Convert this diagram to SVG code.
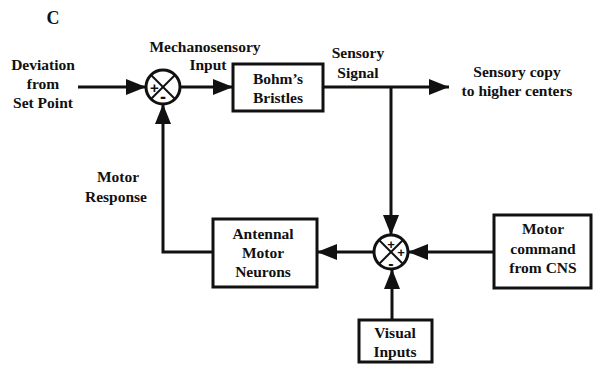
<svg xmlns="http://www.w3.org/2000/svg" width="596" height="365" viewBox="0 0 596 365">
<style>
text{font-family:"Liberation Serif","Times New Roman",serif;font-weight:bold;font-size:15.5px;fill:#111;text-anchor:middle}
.box{fill:#fff;stroke:#111;stroke-width:3}
.ln{fill:none;stroke:#111;stroke-width:3}
.sum{fill:#fff;stroke:#111;stroke-width:3}
.x{stroke:#111;stroke-width:2}
.sg{font-family:"Liberation Sans",Arial,sans-serif}
</style>
<defs>
<marker id="ah" markerUnits="userSpaceOnUse" markerWidth="20" markerHeight="16" refX="20" refY="8" orient="auto">
<path d="M0,0 L20,8 L0,16 z" fill="#111"/>
</marker>
</defs>
<rect width="596" height="365" fill="#fff"/>
<text x="53" y="24" style="font-size:18px">C</text>
<g id="connectors">
<path class="ln" d="M78,87 H146" marker-end="url(#ah)"/>
<path class="ln" d="M180,87 H233" marker-end="url(#ah)"/>
<path class="ln" d="M323,87 H449" marker-end="url(#ah)"/>
<path class="ln" d="M391,87 V235" marker-end="url(#ah)"/>
<path class="ln" d="M494,252 H408" marker-end="url(#ah)"/>
<path class="ln" d="M374,252 H317" marker-end="url(#ah)"/>
<path class="ln" d="M213,252 H163 V104" marker-end="url(#ah)"/>
<path class="ln" d="M392,320 V269" marker-end="url(#ah)"/>
</g>
<g id="deviation">
<text x="43" y="70">Deviation</text>
<text x="43" y="89">from</text>
<text x="43" y="108">Set Point</text>
</g>
<g id="sum1">
<circle class="sum" cx="163" cy="87" r="17"/>
<line class="x" x1="151" y1="75" x2="175" y2="99"/>
<line class="x" x1="175" y1="75" x2="151" y2="99"/>
<text class="sg" x="154.5" y="92.5" style="font-size:15px">+</text>
<text class="sg" x="163" y="103" style="font-size:18px">-</text>
</g>
<g id="mech-label">
<text x="205" y="52">Mechanosensory</text>
<text x="208" y="70">Input</text>
</g>
<g id="bohm">
<rect class="box" x="233" y="64" width="90" height="47"/>
<text x="278" y="84">Bohm’s</text>
<text x="278" y="103">Bristles</text>
</g>
<g id="signal-label">
<text x="358" y="58">Sensory</text>
<text x="358" y="78">Signal</text>
</g>
<g id="copy-label">
<text x="517" y="77">Sensory copy</text>
<text x="517" y="96">to higher centers</text>
</g>
<g id="sum2">
<circle class="sum" cx="391" cy="252" r="17"/>
<line class="x" x1="379" y1="240" x2="403" y2="264"/>
<line class="x" x1="403" y1="240" x2="379" y2="264"/>
<text class="sg" x="391" y="249" style="font-size:13px">+</text>
<text class="sg" x="401" y="257" style="font-size:13px">+</text>
<text class="sg" x="391" y="269" style="font-size:16px">-</text>
</g>
<g id="motor-command">
<rect class="box" x="494" y="215" width="97" height="73"/>
<text x="543" y="234">Motor</text>
<text x="543" y="254">command</text>
<text x="543" y="273">from CNS</text>
</g>
<g id="antennal">
<rect class="box" x="213" y="219" width="104" height="68"/>
<text x="263" y="239">Antennal</text>
<text x="263" y="258">Motor</text>
<text x="263" y="277">Neurons</text>
</g>
<g id="motor-response">
<text x="118" y="182">Motor</text>
<text x="116" y="202">Response</text>
</g>
<g id="visual">
<rect class="box" x="359" y="320" width="73" height="42"/>
<text x="395" y="338">Visual</text>
<text x="395" y="357">Inputs</text>
</g>
</svg>
